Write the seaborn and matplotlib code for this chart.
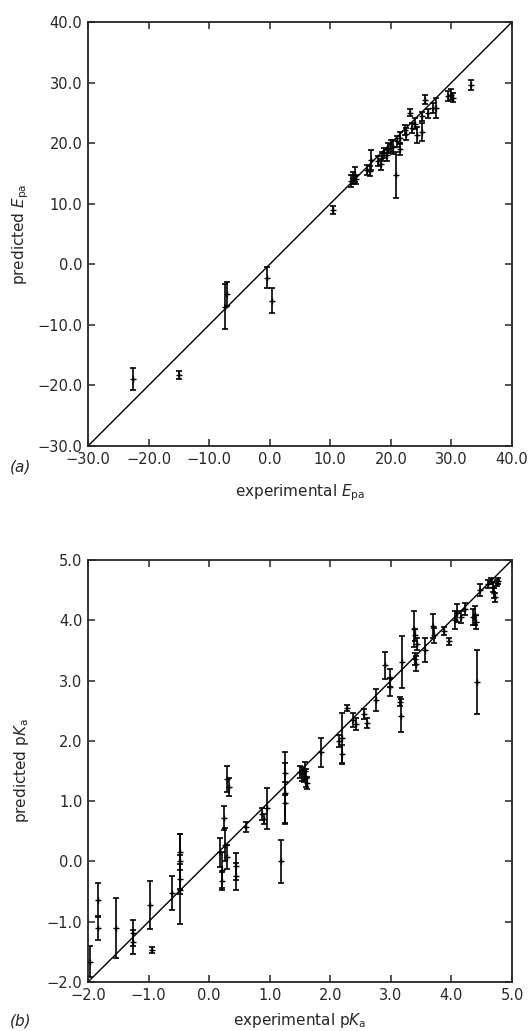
import numpy as np
import pandas as pd
import matplotlib
matplotlib.use("Agg")
import matplotlib.pyplot as plt
import seaborn as sns

# --- DATA: panel (a) E_pa ---
epa_exp = [-22.5, -15.0, -7.3, -7.0, -0.5, 0.3, 10.5, 13.5, 13.8, 14.0, 14.3,
           16.0, 16.5, 16.8, 17.8, 18.3, 18.5, 18.8, 19.3, 19.5, 20.0, 20.4,
           20.8, 21.0, 21.5, 21.5, 22.3, 22.5, 23.2, 23.5, 24.0, 24.3, 25.1,
           25.1, 25.6, 26.2, 27.0, 27.5, 29.5, 30.0, 30.3, 33.3]
epa_pred = [-19.0, -18.3, -7.0, -4.9, -2.2, -6.0, 9.0, 13.8, 14.3, 14.8, 14.0,
            15.6, 15.4, 17.2, 17.0, 16.5, 17.8, 18.4, 18.0, 19.2, 19.6, 19.4,
            14.7, 20.3, 20.8, 19.0, 22.2, 21.5, 25.0, 22.5, 23.2, 21.3, 21.9,
            24.4, 27.2, 24.9, 25.8, 25.8, 27.8, 28.0, 27.5, 29.6]
epa_err = [1.8, 0.6, 3.7, 2.0, 1.7, 2.1, 0.7, 1.0, 1.0, 1.2, 0.8,
           0.8, 0.9, 1.6, 0.8, 0.9, 0.8, 0.8, 0.9, 0.8, 1.0, 1.2,
           3.8, 0.9, 1.0, 1.0, 0.8, 1.0, 0.6, 0.8, 0.9, 1.3, 1.5,
           0.8, 0.7, 0.8, 0.9, 1.7, 0.8, 0.9, 0.7, 0.8]

# --- DATA: panel (b) pKa ---
pka_exp = [-1.97, -1.83, -1.83, -1.53, -1.25, -1.25, -0.97, -0.95, -0.61,
           -0.48, -0.48, -0.48, -0.48, 0.18, 0.22, 0.22, 0.25, 0.27, 0.30,
           0.30, 0.32, 0.45, 0.45, 0.61, 0.87, 0.90, 0.96, 1.19, 1.26, 1.26,
           1.26, 1.50, 1.53, 1.56, 1.58, 1.60, 1.62, 1.84, 2.15, 2.19, 2.19,
           2.28, 2.38, 2.42, 2.55, 2.60, 2.75, 2.90, 2.98, 2.99, 3.15, 3.16,
           3.18, 3.38, 3.40, 3.40, 3.42, 3.43, 3.56, 3.70, 3.72, 3.88, 3.96,
           4.06, 4.10, 4.15, 4.22, 4.36, 4.39, 4.40, 4.42, 4.47, 4.60, 4.65,
           4.68, 4.70, 4.72, 4.75, 4.77]
pka_pred = [-1.66, -0.64, -1.10, -1.11, -1.19, -1.33, -0.72, -1.47, -0.52,
            0.16, 0.00, -0.29, -0.47, 0.15, -0.14, -0.33, 0.72, 0.28, 0.08,
            1.37, 1.24, -0.08, -0.25, 0.57, 0.78, 0.70, 0.88, 0.00, 1.46, 1.14,
            0.97, 1.48, 1.45, 1.42, 1.50, 1.38, 1.30, 1.81, 2.00, 2.04, 1.78,
            2.54, 2.35, 2.28, 2.45, 2.30, 2.68, 3.25, 3.05, 2.90, 2.65, 2.42,
            3.31, 3.85, 3.75, 3.35, 3.28, 3.60, 3.50, 3.90, 3.75, 3.82, 3.65,
            4.00, 4.12, 4.05, 4.18, 4.05, 4.08, 3.97, 2.98, 4.50, 4.60, 4.65,
            4.55, 4.45, 4.38, 4.62, 4.65]
pka_err = [0.25, 0.29, 0.20, 0.50, 0.22, 0.20, 0.40, 0.05, 0.28,
           0.30, 0.45, 0.25, 0.57, 0.24, 0.30, 0.15, 0.20, 0.27, 0.20,
           0.22, 0.15, 0.22, 0.22, 0.08, 0.10, 0.08, 0.34, 0.35, 0.35, 0.50,
           0.35, 0.10, 0.12, 0.10, 0.15, 0.15, 0.10, 0.24, 0.10, 0.42, 0.15,
           0.05, 0.12, 0.10, 0.08, 0.08, 0.18, 0.22, 0.15, 0.15, 0.07, 0.28,
           0.43, 0.30, 0.10, 0.10, 0.12, 0.10, 0.20, 0.20, 0.12, 0.07, 0.06,
           0.15, 0.15, 0.10, 0.10, 0.13, 0.15, 0.12, 0.53, 0.10, 0.07, 0.05,
           0.08, 0.08, 0.08, 0.05, 0.05]

epa_ticks = [-30, -20, -10, 0, 10, 20, 30, 40]
pka_ticks = [-2, -1, 0, 1, 2, 3, 4, 5]

sns.set_style("ticks")
plt.rcParams["font.family"] = ["DejaVu Sans"]
plt.rcParams["mathtext.fontset"] = "dejavusans"
plt.rcParams["axes.unicode_minus"] = True

fig = plt.figure(figsize=(5.31, 10.31), dpi=100)
ax_a = fig.add_axes([88 / 531, 1 - 446 / 1031, 424 / 531, 424 / 1031])
ax_b = fig.add_axes([88 / 531, 1 - 982 / 1031, 424 / 531, 422 / 1031])


def draw_panel(ax, xs, ys, errs, ticks, xlabel, ylabel, xlab_y):
    df = pd.DataFrame({"exp": xs, "pred": ys, "err": errs})
    lo, hi = ticks[0], ticks[-1]
    ax.axline((lo, lo), (hi, hi), color="black", lw=1.0, zorder=1)
    ax.errorbar(df["exp"], df["pred"], yerr=df["err"], fmt="none",
                ecolor="black", elinewidth=1.2, capsize=2.5, capthick=1.2,
                zorder=2)
    sns.scatterplot(data=df, x="exp", y="pred", ax=ax, marker="+",
                    color="black", s=16, linewidth=1.0, zorder=3, legend=False)
    ax.set_xlim(lo, hi)
    ax.set_ylim(lo, hi)
    ax.set_xticks(ticks)
    ax.set_yticks(ticks)
    ax.set_xticklabels([f"{t:.1f}".replace("-", "\u2212") for t in ticks])
    ax.set_yticklabels([f"{t:.1f}".replace("-", "\u2212") for t in ticks])
    ax.tick_params(direction="in", length=5, width=1.1, top=True, right=True,
                   labelsize=10.5, pad=4)
    for s in ax.spines.values():
        s.set_linewidth(1.3)
    ax.set_xlabel(xlabel, fontsize=11)
    ax.set_ylabel(ylabel, fontsize=11)
    ax.xaxis.set_label_coords(0.5, xlab_y)
    ax.yaxis.set_label_coords(-0.135, 0.5)


draw_panel(ax_a, epa_exp, epa_pred, epa_err, epa_ticks,
           r"experimental $\mathit{E}_{\mathrm{pa}}$",
           r"predicted $\mathit{E}_{\mathrm{pa}}$", -0.085)
draw_panel(ax_b, pka_exp, pka_pred, pka_err, pka_ticks,
           r"experimental p$\mathit{K}_{\mathrm{a}}$",
           r"predicted p$\mathit{K}_{\mathrm{a}}$", -0.068)

fig.text(10 / 531, 1 - 467 / 1031, "(a)", fontsize=11, style="italic",
         va="center")
fig.text(10 / 531, 1 - 1021 / 1031, "(b)", fontsize=11, style="italic",
         va="center")

fig.savefig("out.png", dpi=100)
